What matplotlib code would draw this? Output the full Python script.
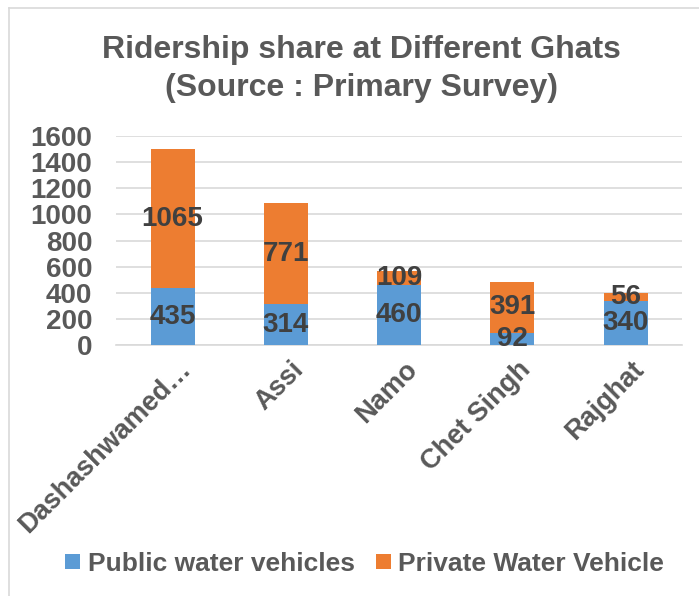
import matplotlib
matplotlib.use("Agg")
import matplotlib.pyplot as plt
from matplotlib.lines import Line2D
import matplotlib.transforms as mtransforms
import numpy as np

plt.rcParams['font.family'] = ['Liberation Sans', 'DejaVu Sans']
plt.rcParams['font.weight'] = 'bold'

ghats = ["Dashashwamed…", "Assi", "Namo", "Chet Singh", "Rajghat"]
public = [435, 314, 460, 92, 340]
private = [1065, 771, 109, 391, 56]
series_names = ["Public water vehicles", "Private Water Vehicle"]
yticks = [0, 200, 400, 600, 800, 1000, 1200, 1400, 1600]

blue = "#5B9BD5"
orange = "#ED7D31"
grey_txt = "#595959"
lbl_txt = "#404040"

fig = plt.figure(figsize=(6.99, 5.96), dpi=100)
ax = fig.add_axes([0.166, 0.4211, 0.81, 0.3507])

x = np.arange(len(ghats))
w = 0.39
b1 = ax.bar(x, public, w, color=blue, label=series_names[0], zorder=3)
b2 = ax.bar(x, private, w, bottom=public, color=orange, label=series_names[1], zorder=3)

for bars, vals, bottoms in [(b1, public, [0] * 5), (b2, private, public)]:
    for xi, v, b in zip(x, vals, bottoms):
        ax.text(xi, b + v / 2, str(v), ha="center", va="center",
                fontsize=20, fontweight="bold", color=lbl_txt, zorder=4)

ax.set_xlim(-0.5, len(ghats) - 0.5)
ax.set_ylim(0, 1600)
ax.set_yticks(yticks)
ax.set_yticklabels([str(t) for t in yticks], fontsize=20, color=grey_txt)
ax.set_xticks(x)
ax.set_xticklabels(ghats, fontsize=19.5, color=grey_txt, rotation=45,
                   ha="right", rotation_mode="anchor")
ax.tick_params(axis="both", length=0)
ax.tick_params(axis="y", pad=17)
ax.tick_params(axis="x", pad=8)
# nudge the rotated labels so their ends sit next to the bars
shift = mtransforms.ScaledTranslation(5 / 100, 0, fig.dpi_scale_trans)
for lbl in ax.get_xticklabels():
    lbl.set_transform(lbl.get_transform() + shift)
ax.yaxis.grid(True, color="#D9D9D9", linewidth=1.2, zorder=0)
for s in ["top", "right", "left"]:
    ax.spines[s].set_visible(False)
ax.spines["bottom"].set_color("#D9D9D9")
ax.spines["bottom"].set_linewidth(1.2)

fig.text(0.517, 0.884, "Ridership share at Different Ghats\n(Source : Primary Survey)",
         ha="center", va="center", fontsize=23, fontweight="bold",
         color=grey_txt, linespacing=1.32)

fig.legend(handles=[b1, b2], labels=series_names, loc="center",
           bbox_to_anchor=(0.522, 0.054), ncol=2, frameon=False,
           fontsize=19, handlelength=0.55, handleheight=0.55,
           handletextpad=0.3, columnspacing=0.8, labelcolor=grey_txt)

# chart border (top and left edges visible)
fig.add_artist(Line2D([9 / 699, 9 / 699], [0, 1 - 8 / 596], transform=fig.transFigure,
                      color="#D9D9D9", linewidth=1.2))
fig.add_artist(Line2D([9 / 699, 1], [1 - 8 / 596, 1 - 8 / 596], transform=fig.transFigure,
                      color="#D9D9D9", linewidth=1.2))

fig.savefig("out.png", dpi=100, facecolor="white")
